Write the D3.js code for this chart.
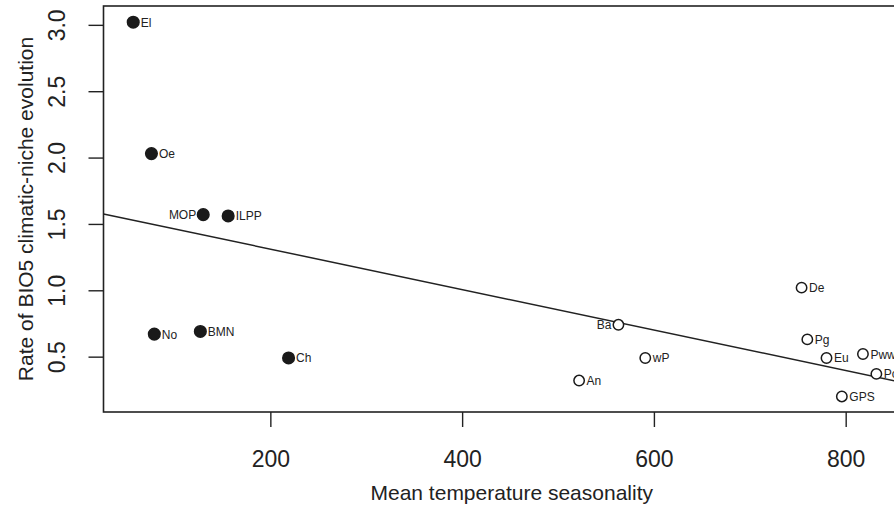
<!DOCTYPE html>
<html>
<head>
<meta charset="utf-8">
<script src="https://cdn.jsdelivr.net/npm/d3@7"></script>
<style>
	body { margin: 0; background: #fff; }
	svg { display: block; font-family: "Liberation Sans", Arial, sans-serif; }
</style>
</head>
<body>
<div id="chart"></div>
<script>
// species labels, seasonality (x), rate (y), group and label side
var names = ["El", "Oe", "MOP", "ILPP", "No", "BMN", "Ch", "An", "Ba", "wP", "De", "Pg", "Eu", "Pww", "Pc", "GPS"];
var seasonality = [57, 76, 130, 156, 79, 127, 219, 522, 563, 591, 754, 760, 780, 818, 832, 796];
var rate = [3.02, 2.03, 1.57, 1.56, 0.67, 0.69, 0.49, 0.32, 0.74, 0.49, 1.02, 0.63, 0.49, 0.52, 0.37, 0.20];
var filled = [1, 1, 1, 1, 1, 1, 1, 0, 0, 0, 0, 0, 0, 0, 0, 0];
var labelLeft = [0, 0, 1, 0, 0, 0, 0, 0, 1, 0, 0, 0, 0, 0, 0, 0];

var xTicks = [200, 400, 600, 800];
var yTicks = [0.5, 1.0, 1.5, 2.0, 2.5, 3.0];

// fitted line: intercept and slope
var fitA = 1.615, fitB = -0.001524;

var width = 894, height = 507;
var plotLeft = 103.5, plotTop = 6, plotBottom = 412, plotRight = 920;

var svg = d3.select("#chart").append("svg")
	.attr("width", width)
	.attr("height", height);

var x = d3.scaleLinear().domain([26, 877.5]).range([plotLeft, plotRight]);
var y = d3.scaleLinear().domain([0.083, 3.142]).range([plotBottom, plotTop]);

// box
svg.append("rect")
	.attr("x", plotLeft).attr("y", plotTop)
	.attr("width", plotRight - plotLeft).attr("height", plotBottom - plotTop)
	.attr("fill", "none").attr("stroke", "#222").attr("stroke-width", 1.6);

// x axis
var xAxis = svg.append("g")
	.attr("transform", "translate(0," + plotBottom + ")")
	.call(d3.axisBottom(x).tickValues(xTicks).tickSize(15).tickFormat(d3.format("d")));
xAxis.select(".domain").remove();
xAxis.selectAll("line").attr("stroke", "#222").attr("stroke-width", 1.4);
xAxis.selectAll("text")
	.attr("font-size", 23).attr("fill", "#222").attr("font-family", "Liberation Sans, Arial, sans-serif")
	.attr("y", 55).attr("dy", null);

// y axis
var yAxis = svg.append("g")
	.attr("transform", "translate(" + plotLeft + ",0)")
	.call(d3.axisLeft(y).tickValues(yTicks).tickSize(15).tickFormat(d3.format(".1f")));
yAxis.select(".domain").remove();
yAxis.selectAll("line").attr("stroke", "#222").attr("stroke-width", 1.4);
yAxis.selectAll("text")
	.attr("font-size", 23).attr("fill", "#222").attr("font-family", "Liberation Sans, Arial, sans-serif")
	.attr("x", null).attr("dy", null)
	.attr("text-anchor", "middle")
	.attr("transform", "translate(-38.5,0) rotate(-90)");

// axis titles
svg.append("text")
	.attr("x", (plotLeft + plotRight) / 2).attr("y", 500)
	.attr("text-anchor", "middle")
	.attr("font-size", 21).attr("fill", "#222")
	.text("Mean temperature seasonality");

svg.append("text")
	.attr("transform", "translate(33," + ((plotTop + plotBottom) / 2) + ") rotate(-90)")
	.attr("text-anchor", "middle")
	.attr("font-size", 21).attr("fill", "#222")
	.text("Rate of BIO5 climatic-niche evolution");

var plot = svg.append("g");

// regression line
plot.append("line")
	.attr("x1", x(26)).attr("y1", y(fitA + fitB * 26))
	.attr("x2", x(877.5)).attr("y2", y(fitA + fitB * 877.5))
	.attr("stroke", "#222").attr("stroke-width", 1.5);

var idx = d3.range(names.length);

plot.selectAll("circle")
	.data(idx)
	.enter()
	.append("circle")
	.attr("cx", function(i) { return x(seasonality[i]); })
	.attr("cy", function(i) { return y(rate[i]); })
	.attr("r", function(i) { return filled[i] ? 5.8 : 5.2; })
	.attr("fill", function(i) { return filled[i] ? "#1a1a1a" : "#fff"; })
	.attr("stroke", "#1a1a1a")
	.attr("stroke-width", 1.5);

plot.selectAll("text.lab")
	.data(idx)
	.enter()
	.append("text")
	.attr("class", "lab")
	.attr("x", function(i) { return x(seasonality[i]) + (labelLeft[i] ? -7 : 7.5); })
	.attr("y", function(i) { return y(rate[i]) + 4.5; })
	.attr("text-anchor", function(i) { return labelLeft[i] ? "end" : "start"; })
	.attr("font-size", 12)
	.attr("fill", "#222")
	.text(function(i) { return names[i]; });
</script>
</body>
</html>
